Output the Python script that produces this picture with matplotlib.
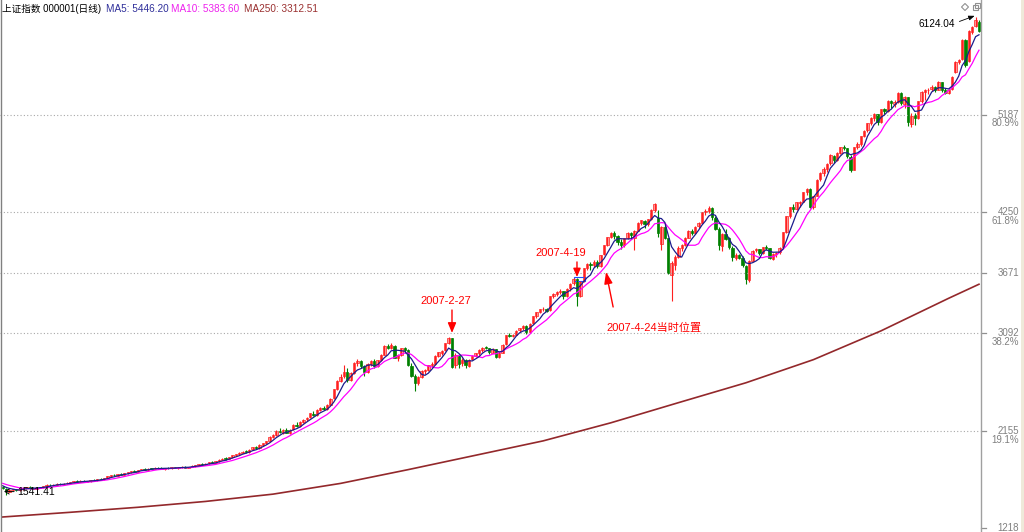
import matplotlib
matplotlib.use("Agg")
from matplotlib import pyplot as plt
from matplotlib.patches import Rectangle, Polygon
import numpy as np
import pandas as pd

plt.rcParams['font.family'] = ['Liberation Sans', 'Noto Sans CJK SC', 'DejaVu Sans']

# daily candles, 2006-08-04 .. 2007-10-17 (one row per month)
opens = [
    1615, 1600, 1572, 1590, 1595, 1583, 1594, 1606, 1616, 1608, 1600, 1607, 1616, 1626, 1637, 1630, 1638, 1647, 1640, 1650,
    1655, 1664, 1671, 1665, 1675, 1667, 1673, 1684, 1680, 1692, 1689, 1705, 1719, 1732, 1725, 1740, 1734, 1750, 1759, 1769, 1764,
    1780, 1790, 1782, 1793, 1789, 1801, 1795, 1787, 1800, 1793, 1804, 1797, 1807, 1811, 1801, 1809, 1819,
    1827, 1835, 1829, 1842, 1853, 1847, 1864, 1877, 1889, 1883, 1904, 1920, 1932, 1946, 1958, 1948, 1977, 1996, 1986, 2022, 2036, 2058,
    2096, 2112, 2155, 2138, 2162, 2136, 2168, 2214, 2198, 2240, 2264, 2285, 2320, 2308, 2355, 2372, 2360, 2404, 2465, 2555, 2630,
    2680, 2720, 2640, 2710, 2802, 2828, 2772, 2718, 2796, 2822, 2776, 2834, 2885, 2970, 2948, 2970, 2855, 2885, 2946, 2928,
    2780, 2680, 2610, 2674, 2732, 2740, 2786, 2795, 2875, 2905, 2925, 3000, 3045,
    2790, 2875, 2800, 2830, 2780, 2840, 2872, 2900, 2932, 2955, 2945, 2905, 2935, 2860, 2905, 2985, 3072, 3066, 3076, 3118, 3140, 3162, 3098,
    3185, 3255, 3292, 3320, 3322, 3310, 3446, 3470, 3488, 3495, 3446, 3520, 3568, 3610, 3450, 3590, 3720, 3754, 3742, 3770, 3735,
    3850, 3940, 4015, 4050, 4020, 3962, 3935, 4002, 4048, 4000, 4075, 4152, 4170, 4135, 4185, 4275, 4200, 3950,
    4105, 4000, 3650, 3740, 3825, 3905, 3938, 4008, 4075, 4048, 4115, 4152, 4250, 4262, 4288, 4200, 4090, 3930, 4045, 4000, 3910,
    3815, 3838, 3815, 3735, 3600, 3785, 3885, 3895, 3855, 3915, 3905, 3805, 3848, 3865, 3915, 4060, 4215, 4300, 4285, 4340, 4350, 4442,
    4470, 4300, 4410, 4565, 4630, 4665, 4720, 4790, 4750, 4822, 4875, 4865, 4785, 4660, 4880, 4905, 4982, 5035, 5110, 5152, 5190, 5118, 5240,
    5220, 5320, 5290, 5312, 5395, 5290, 5355, 5100, 5180, 5150, 5318, 5405, 5420, 5428, 5455, 5425, 5495, 5420, 5390, 5430,
    5600, 5695, 5720, 5905, 5700, 5975, 6040, 6075,
]
highs = [
    1622, 1604, 1592, 1600, 1598, 1596, 1608, 1618, 1622, 1614, 1612, 1618, 1628, 1640, 1645, 1640, 1650, 1655, 1652, 1660,
    1668, 1675, 1680, 1678, 1682, 1676, 1686, 1690, 1694, 1700, 1706, 1722, 1735, 1740, 1742, 1748, 1752, 1762, 1772, 1778, 1782,
    1792, 1798, 1795, 1802, 1804, 1812, 1806, 1802, 1808, 1806, 1812, 1810, 1816, 1818, 1812, 1822, 1830,
    1838, 1842, 1844, 1856, 1862, 1866, 1880, 1892, 1900, 1906, 1922, 1936, 1950, 1962, 1972, 1980, 2000, 2010, 2024, 2040, 2060, 2100,
    2120, 2160, 2178, 2168, 2180, 2170, 2220, 2240, 2245, 2270, 2290, 2330, 2345, 2360, 2380, 2392, 2410, 2470, 2560, 2640, 2700,
    2790, 2760, 2720, 2810, 2840, 2835, 2790, 2800, 2830, 2840, 2838, 2890, 2975, 2990, 2994, 2978, 2890, 2950, 2960, 2935,
    2800, 2700, 2680, 2740, 2750, 2790, 2810, 2880, 2915, 2930, 3000, 3050, 3049,
    2900, 2890, 2850, 2840, 2845, 2880, 2905, 2935, 2960, 2968, 2950, 2945, 2940, 2910, 2990, 3075, 3090, 3085, 3125, 3145, 3170, 3170, 3190,
    3255, 3295, 3325, 3340, 3335, 3450, 3480, 3495, 3510, 3500, 3525, 3570, 3620, 3624, 3590, 3720, 3765, 3770, 3790, 3790, 3845,
    3940, 4015, 4060, 4070, 4030, 3990, 4005, 4060, 4060, 4080, 4160, 4180, 4175, 4190, 4280, 4336, 4275, 4120,
    4140, 4005, 3780, 3840, 3925, 3950, 4010, 4080, 4090, 4120, 4160, 4255, 4280, 4311, 4300, 4215, 4110, 4050, 4087, 4010, 3925,
    3860, 3850, 3830, 3745, 3790, 3890, 3910, 3900, 3920, 3935, 3910, 3860, 3870, 3920, 4065, 4215, 4305, 4330, 4350, 4360, 4445, 4480,
    4480, 4410, 4565, 4640, 4680, 4720, 4810, 4800, 4830, 4880, 4900, 4870, 4800, 4880, 4920, 4985, 5040, 5110, 5160, 5200, 5195, 5245, 5250,
    5330, 5330, 5330, 5400, 5400, 5370, 5360, 5200, 5200, 5320, 5410, 5430, 5440, 5470, 5460, 5510, 5500, 5440, 5440, 5560,
    5700, 5720, 5910, 5910, 6000, 6040, 6124.04, 6095,
]
lows = [
    1598, 1541.41, 1566, 1582, 1580, 1578, 1590, 1600, 1606, 1596, 1595, 1602, 1610, 1620, 1628, 1624, 1633, 1638, 1635, 1644,
    1650, 1658, 1662, 1660, 1664, 1660, 1668, 1674, 1676, 1684, 1686, 1700, 1712, 1720, 1720, 1730, 1730, 1742, 1752, 1758, 1760,
    1774, 1778, 1772, 1785, 1784, 1792, 1785, 1780, 1790, 1788, 1795, 1792, 1800, 1798, 1794, 1804, 1812,
    1820, 1826, 1824, 1836, 1842, 1843, 1858, 1870, 1878, 1880, 1898, 1910, 1926, 1938, 1945, 1944, 1970, 1980, 1982, 2010, 2028, 2050,
    2085, 2105, 2130, 2125, 2130, 2120, 2160, 2190, 2190, 2228, 2250, 2278, 2296, 2300, 2340, 2350, 2352, 2398, 2460, 2548, 2620,
    2660, 2620, 2630, 2700, 2780, 2760, 2680, 2710, 2780, 2760, 2770, 2825, 2880, 2940, 2935, 2850, 2820, 2870, 2900, 2780,
    2670, 2541, 2590, 2660, 2700, 2730, 2770, 2790, 2860, 2880, 2918, 2990, 2761,
    2760, 2760, 2780, 2760, 2770, 2830, 2860, 2880, 2910, 2935, 2890, 2900, 2850, 2850, 2900, 2980, 3050, 3050, 3070, 3100, 3125, 3080, 3090,
    3180, 3240, 3280, 3300, 3290, 3305, 3430, 3450, 3470, 3420, 3440, 3500, 3555, 3356, 3440, 3585, 3700, 3700, 3730, 3720, 3730,
    3840, 3930, 4000, 3990, 3940, 3900, 3920, 3990, 4000, 3890, 4070, 4130, 4100, 4120, 4180, 4250, 4015, 3890,
    3990, 3660, 3404, 3700, 3810, 3880, 3930, 4000, 4030, 4040, 4100, 4148, 4220, 4240, 4180, 4080, 3890, 3880, 3980, 3900, 3780,
    3790, 3800, 3730, 3563, 3580, 3780, 3870, 3840, 3850, 3890, 3800, 3790, 3820, 3850, 3910, 4055, 4200, 4250, 4270, 4300, 4345, 4420,
    4290, 4280, 4405, 4550, 4600, 4640, 4700, 4720, 4740, 4810, 4850, 4770, 4640, 4655, 4860, 4890, 4970, 5020, 5090, 5130, 5090, 5110, 5190,
    5210, 5250, 5260, 5300, 5280, 5250, 5080, 5066, 5090, 5140, 5300, 5330, 5380, 5410, 5400, 5420, 5400, 5380, 5380, 5425,
    5590, 5670, 5710, 5640, 5690, 5960, 6030, 5980,
]
closes = [
    1603, 1575, 1588, 1596, 1584, 1593, 1605, 1615, 1610, 1600, 1608, 1615, 1625, 1636, 1632, 1637, 1646, 1642, 1649, 1655,
    1662, 1670, 1666, 1674, 1668, 1672, 1683, 1679, 1691, 1688, 1703, 1718, 1731, 1726, 1739, 1735, 1748, 1758, 1768, 1763, 1778,
    1788, 1783, 1792, 1790, 1800, 1796, 1788, 1799, 1794, 1803, 1798, 1806, 1810, 1802, 1808, 1818, 1826,
    1834, 1830, 1840, 1852, 1848, 1862, 1876, 1888, 1884, 1902, 1918, 1930, 1944, 1956, 1950, 1975, 1995, 1988, 2020, 2034, 2056, 2094,
    2110, 2152, 2140, 2160, 2138, 2165, 2212, 2200, 2238, 2262, 2282, 2322, 2310, 2352, 2370, 2362, 2402, 2462, 2552, 2628, 2675,
    2715, 2642, 2708, 2800, 2826, 2775, 2720, 2794, 2821, 2778, 2832, 2882, 2969, 2950, 2975, 2857, 2882, 2945, 2930, 2786,
    2681, 2612, 2672, 2730, 2737, 2785, 2791, 2873, 2907, 2922, 2998, 3040, 2771,
    2881, 2797, 2831, 2785, 2838, 2871, 2899, 2930, 2953, 2950, 2906, 2937, 2864, 2900, 2981, 3071, 3068, 3074, 3116, 3138, 3160, 3100, 3183,
    3252, 3291, 3319, 3323, 3305, 3444, 3469, 3486, 3494, 3444, 3519, 3566, 3612, 3449, 3584, 3719, 3755, 3740, 3773, 3733, 3841,
    3937, 4013, 4049, 4021, 3965, 3937, 4000, 4050, 4030, 4072, 4150, 4172, 4137, 4181, 4272, 4334, 4053, 4109,
    4000, 3670, 3767, 3820, 3910, 3935, 4005, 4073, 4050, 4112, 4150, 4252, 4265, 4290, 4204, 4091, 3941, 4040, 3995, 3914, 3820,
    3836, 3816, 3740, 3615, 3781, 3883, 3897, 3855, 3914, 3910, 3807, 3847, 3862, 3912, 4058, 4213, 4300, 4280, 4345, 4348, 4440, 4471,
    4300, 4407, 4560, 4628, 4663, 4717, 4795, 4749, 4820, 4872, 4870, 4790, 4656, 4876, 4903, 4980, 5032, 5107, 5150, 5194, 5117, 5238, 5218,
    5321, 5294, 5311, 5393, 5294, 5356, 5114, 5172, 5152, 5315, 5403, 5421, 5425, 5454, 5425, 5497, 5425, 5394, 5425, 5552,
    5692, 5715, 5900, 5660, 5990, 6030, 6092, 5990,
]
# closes before the first candle, only used to start the moving averages
pre_closes = [1690, 1685, 1680, 1676, 1670, 1660, 1650, 1640, 1628, 1615]

# MA250 every 20 sessions
ma250_idx = [0, 20, 40, 60, 80, 100, 120, 140, 160, 180, 200, 220, 240, 260, 280, 289]
ma250_val = [1328, 1373, 1421, 1477, 1547, 1650, 1782, 1920, 2058, 2231, 2424, 2615, 2837, 3113, 3425, 3560]

levels = [5187, 4250, 3671, 3092, 2155, 1218]
level_pct = ['80.9%', '61.8%', '', '38.2%', '19.1%', '']

IDX_0227, IDX_0419, IDX_TOP, IDX_LOW = 133, 170, 288, 1

W, H = 1024, 532
fig = plt.figure(figsize=(W / 100, H / 100), dpi=100)
fig.patch.set_facecolor('white')

ax = fig.add_axes([0, 0, 981 / W, 1])
ax.set_xlim(-0.8, 289.6)
ax.set_ylim(1184, 6286)
ax.axis('off')

o = np.array(opens, float)
h = np.array(highs, float)
l = np.array(lows, float)
c = np.array(closes, float)
x = np.arange(len(c))
up = c >= o
dn = ~up

# grid
for lv in levels[:-1]:
    ax.axhline(lv, xmin=0, xmax=978 / 981, color='#a8a8a8', lw=0.8, ls=(0, (1, 2)))

# MA250
ax.plot(ma250_idx, ma250_val, color='#93282b', lw=1.2)

# candles
ax.vlines(x[up], l[up], h[up], color='#ff2020', lw=0.8)
ax.vlines(x[dn], l[dn], h[dn], color='#008000', lw=0.8)
ax.bar(x[up], np.maximum(c[up] - o[up], 4), bottom=o[up], width=0.7,
       color='#ff9c9c', edgecolor='#ff2020', linewidth=0.5)
ax.bar(x[dn], np.maximum(o[dn] - c[dn], 4), bottom=c[dn], width=0.7,
       color='#008000', edgecolor='#008000', linewidth=0.5)

# MA5 / MA10
s = pd.Series(pre_closes + closes, dtype=float)
ma5 = s.rolling(5).mean().to_numpy()[len(pre_closes):]
ma10 = s.rolling(10).mean().to_numpy()[len(pre_closes):]
ax.plot(x, ma10, color='#ff00ff', lw=0.9)
ax.plot(x, ma5, color='#1c1c8c', lw=0.9)

# right scale
ytr = ax.get_yaxis_transform()
for lv, pct in zip(levels, level_pct):
    ax.plot([1.0, 1.0055], [lv, lv], transform=ytr, color='#909090', lw=0.9, clip_on=False)
    ax.text(1019 / 981, lv, str(lv), transform=ytr, ha='right', va='center',
            fontsize=7, color='#808080', clip_on=False)
    if pct:
        ax.annotate(pct, xy=(1019 / 981, lv), xycoords=ytr, xytext=(0, -6.3),
                    textcoords='offset points', ha='right', va='center',
                    fontsize=7, color='#808080', annotation_clip=False)

# annotations
ax.annotate('', xy=(IDX_0227, 3093), xytext=(IDX_0227, 3313),
            arrowprops=dict(arrowstyle='-|>,head_length=0.6,head_width=0.25',
                            color='red', lw=1, mutation_scale=10, shrinkA=0, shrinkB=0))
ax.text(131.3, 3400, '2007-2-27', color='red', fontsize=8, ha='center', va='center')

ax.annotate('', xy=(IDX_0419, 3630), xytext=(IDX_0419, 3774),
            arrowprops=dict(arrowstyle='-|>,head_length=0.5,head_width=0.22',
                            color='red', lw=1, mutation_scale=10, shrinkA=0, shrinkB=0))
ax.text(165.3, 3860, '2007-4-19', color='red', fontsize=8, ha='center', va='center')
ax.add_patch(Rectangle((169.1, 3592), 3.3, 38, fill=False, ec='#2050ff', lw=0.8))

ax.annotate('', xy=(178.6, 3678), xytext=(180.7, 3342),
            arrowprops=dict(arrowstyle='-|>,head_length=0.7,head_width=0.25',
                            color='red', lw=1, mutation_scale=10, shrinkA=0, shrinkB=0))
ax.text(192.8, 3141, '2007-4-24当时位置', color='red', fontsize=8, ha='center', va='center')

ax.annotate('6124.04', xy=(IDX_TOP - 0.3, highs[IDX_TOP] + 10), xytext=(282.0, 6056),
            ha='right', va='center', fontsize=7.2, color='black',
            arrowprops=dict(arrowstyle='-|>,head_length=0.5,head_width=0.2', color='black',
                            lw=0.6, mutation_scale=7, shrinkA=1, shrinkB=0, relpos=(1, 0.6)))
ax.annotate('1541.41', xy=(IDX_LOW - 0.6, lows[IDX_LOW] + 30), xytext=(4.2, lows[IDX_LOW] + 30),
            ha='left', va='center', fontsize=7.5, color='black',
            arrowprops=dict(arrowstyle='->,head_length=0.6,head_width=0.35', color='black',
                            lw=0.7, mutation_scale=5, shrinkA=0, shrinkB=0, relpos=(0, 0.5)))

# frame overlay in pixel coordinates
ov = fig.add_axes([0, 0, 1, 1])
ov.set_xlim(0, W)
ov.set_ylim(H, 0)
ov.axis('off')
ov.patch.set_alpha(0)
ov.plot([981, 981], [0, H], color='#a0a0a0', lw=1)
ov.plot([0.5, 0.5], [0, H], color='#808080', lw=1)
ov.add_patch(Rectangle((1021, 0), 3, H, color='#efe9da', lw=0))
ov.add_patch(Polygon([(965, 3.5), (968.5, 7), (965, 10.5), (961.5, 7)], fill=False, ec='#909090', lw=0.8))
ov.add_patch(Rectangle((972.5, 5), 5, 5, fill=False, ec='#909090', lw=0.8))
ov.add_patch(Rectangle((974.5, 3), 5, 5, fill=False, ec='#909090', lw=0.8))

ov.text(2, 9, '上证指数 000001(日线)', fontsize=6.9, va='center', ha='left', color='black')
ov.text(106, 9, 'MA5: 5446.20', fontsize=7.2, va='center', ha='left', color='#2f2f9a')
ov.text(171, 9, 'MA10: 5383.60', fontsize=7.2, va='center', ha='left', color='#ee22ee')
ov.text(244, 9, 'MA250: 3312.51', fontsize=7.2, va='center', ha='left', color='#9a3030')

fig.savefig('out.png', dpi=100, facecolor='white')
